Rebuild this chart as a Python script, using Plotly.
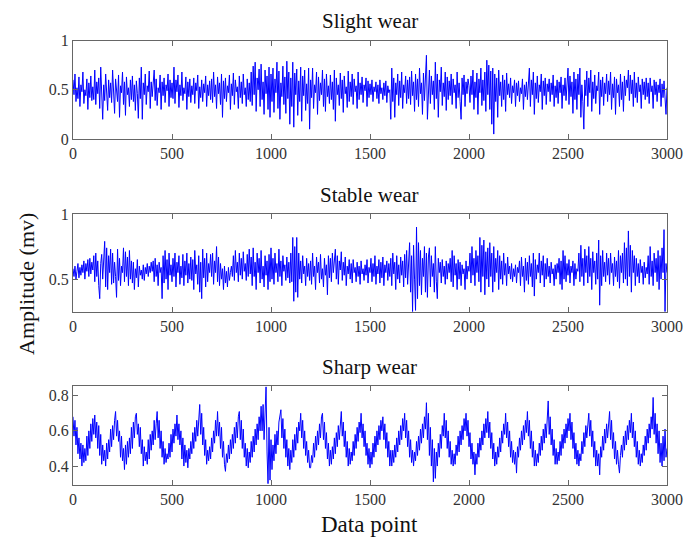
import plotly.graph_objects as go

# Amplitude values in hundredths of mV, one reading every 5 data points (0..3000)
slight = [
    60, 45, 66, 38, 52, 41, 63, 33, 55, 48, 68, 36, 50, 44, 61, 30, 57, 42, 64, 39,
    53, 40, 70, 35, 58, 46, 62, 31, 73, 44, 20, 55, 39, 66, 48, 29, 60, 42, 57, 37,
    70, 43, 26, 61, 50, 38, 65, 22, 54, 47, 68, 35, 58, 24, 63, 45, 52, 33, 60, 40,
    64, 38, 55, 29, 59, 46, 21, 62, 41, 73, 20, 57, 45, 66, 35, 54, 48, 69, 31, 58,
    43, 56, 70, 39, 61, 34, 52, 47, 65, 30, 58, 44, 62, 37, 55, 49, 66, 33, 60, 42,
    57, 41, 73, 36, 60, 48, 65, 32, 55, 44, 68, 39, 52, 46, 63, 30, 58, 43, 61, 37,
    54, 45, 62, 36, 57, 49, 65, 31, 53, 42, 60, 38, 56, 47, 64, 33, 55, 44, 59, 40,
    61, 37, 68, 43, 55, 31, 63, 46, 57, 35, 66, 22, 59, 41, 62, 38, 54, 47, 65, 30,
    56, 44, 67, 35, 60, 48, 53, 31, 64, 42, 58, 36, 66, 45, 52, 33, 61, 40, 57, 38,
    68, 34, 74, 45, 78, 28, 62, 50, 71, 33, 76, 40, 58, 25, 70, 46, 64, 30, 73, 22,
    66, 38, 72, 27, 61, 47, 78, 31, 69, 20, 57, 43, 74, 35, 63, 26, 79, 41, 68, 15,
    62, 33, 78, 12, 67, 45, 71, 24, 59, 38, 73, 18, 64, 44, 70, 29, 56, 36, 72, 10,
    60, 42, 72, 31, 55, 47, 68, 25, 63, 39, 57, 45, 70, 33, 61, 28, 66, 43, 54, 36,
    65, 40, 58, 30, 70, 18, 62, 45, 55, 34, 67, 41, 60, 27, 64, 46, 53, 32, 69, 38,
    58, 43, 66, 35, 61, 48, 54, 31, 68, 40, 57, 45, 63, 37, 55, 49, 62, 33, 59, 42,
    56, 45, 60, 38, 53, 48, 58, 41, 55, 36, 60, 46, 52, 40, 57, 44, 59, 37, 54, 47,
    50, 20, 72, 38, 62, 22, 57, 45, 66, 34, 59, 42, 68, 31, 55, 47, 64, 36, 60, 41,
    63, 35, 69, 44, 58, 28, 66, 40, 61, 33, 72, 46, 57, 25, 67, 39, 62, 85, 20, 58,
    70, 36, 64, 45, 59, 30, 78, 41, 66, 22, 60, 48, 73, 34, 57, 43, 68, 29, 63, 40,
    59, 44, 66, 35, 61, 47, 55, 31, 68, 42, 57, 38, 20, 62, 45, 65, 33, 58, 46, 61,
    54, 37, 64, 45, 70, 30, 58, 42, 67, 25, 61, 47, 72, 34, 60, 39, 68, 28, 80, 45,
    75, 30, 69, 15, 72, 5, 66, 38, 62, 22, 70, 44, 58, 33, 65, 40, 60, 28, 67, 45,
    56, 42, 62, 36, 54, 47, 60, 33, 57, 44, 59, 38, 52, 46, 61, 30, 55, 43, 58, 40,
    65, 72, 33, 60, 45, 68, 25, 57, 41, 64, 37, 55, 48, 66, 30, 59, 44, 62, 35, 56,
    48, 61, 38, 57, 45, 65, 33, 54, 42, 60, 36, 58, 47, 63, 31, 55, 44, 62, 39, 53,
    72, 35, 64, 43, 58, 26, 68, 40, 61, 30, 66, 45, 72, 22, 55, 38, 10, 60, 44, 69,
    33, 62, 47, 70, 28, 58, 41, 65, 36, 54, 49, 68, 25, 60, 43, 63, 34, 57, 46, 66,
    38, 59, 45, 68, 30, 56, 42, 63, 25, 61, 47, 55, 33, 66, 40, 58, 28, 64, 44, 60,
    52, 70, 39, 65, 46, 60, 33, 68, 42, 57, 37, 63, 48, 55, 31, 61, 45, 58, 40, 62,
    43, 57, 36, 62, 48, 54, 31, 60, 45, 58, 38, 55, 47, 61, 33, 56, 42, 59, 35, 25,
    52,
]

stable = [
    58, 52, 60, 50, 56, 62, 51, 59, 53, 61, 55, 64, 50, 62, 56, 65, 52, 66, 54, 63,
    57, 68, 48, 70, 52, 64, 45, 35, 62, 69, 50, 72, 79, 44, 74, 42, 68, 55, 73, 46,
    70, 47, 63, 52, 36, 73, 49, 66, 45, 60, 55, 74, 48, 71, 52, 67, 45, 72, 50, 64,
    47, 63, 42, 58, 51, 65, 44, 60, 53, 57, 50, 61, 49, 59, 54, 62, 52, 60, 55, 63,
    56, 64, 48, 66, 52, 61, 45, 63, 55, 59, 35, 68, 47, 72, 50, 65, 42, 70, 53, 61,
    48, 66, 52, 70, 44, 63, 55, 68, 46, 60, 51, 69, 45, 64, 53, 70, 47, 62, 50, 67,
    49, 65, 42, 72, 54, 61, 46, 68, 40, 63, 35, 73, 51, 66, 44, 70, 48, 62, 55, 69,
    52, 70, 46, 64, 55, 75, 48, 67, 45, 62, 50, 58, 42, 60, 47, 56, 44, 59, 49, 55,
    60, 52, 68, 49, 72, 55, 63, 48, 70, 53, 66, 50, 71, 56, 62, 49, 69, 52, 73, 54,
    67, 45, 74, 52, 63, 42, 70, 55, 66, 47, 72, 50, 60, 44, 68, 53, 64, 42, 69, 48,
    74, 50, 66, 46, 70, 55, 62, 48, 73, 52, 64, 45, 68, 56, 61, 49, 67, 51, 63, 47,
    70, 48, 82, 33, 75, 40, 82, 36, 70, 50, 64, 47, 68, 54, 60, 45, 66, 52, 62, 49,
    64, 46, 70, 52, 60, 42, 67, 55, 63, 47, 69, 50, 58, 44, 66, 53, 61, 38, 68, 51,
    66, 48, 70, 55, 62, 73, 50, 68, 46, 64, 57, 71, 49, 63, 53, 67, 45, 60, 54, 65,
    50, 62, 47, 65, 55, 59, 48, 63, 52, 60, 46, 64, 54, 58, 49, 61, 53, 65, 47, 59,
    55, 66, 48, 62, 52, 68, 46, 60, 54, 65, 47, 63, 51, 67, 45, 61, 55, 64, 49, 62,
    52, 66, 45, 70, 54, 63, 42, 68, 50, 61, 47, 67, 53, 64, 44, 69, 51, 72, 46, 65,
    78, 40, 68, 25, 76, 50, 26, 90, 35, 78, 45, 72, 38, 66, 52, 75, 40, 70, 36, 67,
    74, 44, 68, 52, 62, 40, 75, 48, 35, 66, 55, 63, 47, 65, 52, 60, 46, 64, 50, 62,
    55, 66, 48, 72, 44, 68, 53, 62, 42, 65, 50, 63, 45, 61, 54, 58, 42, 64, 50, 60,
    56, 70, 47, 75, 53, 66, 45, 72, 55, 68, 48, 82, 40, 76, 52, 80, 38, 71, 50, 74,
    44, 78, 52, 70, 40, 75, 48, 66, 55, 72, 42, 68, 50, 64, 46, 70, 53, 62, 45, 67,
    54, 60, 50, 62, 48, 58, 52, 61, 47, 59, 55, 64, 45, 67, 52, 60, 40, 66, 49, 63,
    46, 68, 52, 62, 44, 70, 37, 65, 50, 61, 55, 70, 47, 64, 53, 68, 44, 62, 50, 66,
    52, 60, 47, 63, 54, 58, 45, 61, 50, 62, 55, 66, 46, 64, 42, 72, 50, 68, 48, 62,
    53, 65, 47, 60, 55, 64, 45, 62, 50, 58, 56, 70, 48, 76, 52, 66, 45, 73, 55, 68,
    47, 75, 52, 66, 42, 71, 55, 64, 46, 70, 50, 80, 30, 68, 45, 72, 52, 63, 48, 70,
    53, 66, 46, 70, 55, 62, 45, 67, 52, 64, 48, 72, 43, 68, 55, 70, 47, 78, 50, 74,
    45, 87, 52, 76, 40, 72, 55, 68, 45, 66, 52, 62, 47, 65, 55, 60, 46, 63, 51, 59,
    54, 68, 46, 75, 52, 64, 45, 70, 55, 66, 48, 72, 42, 68, 50, 74, 55, 88, 25, 62,
    55,
]

sharp = [
    68, 57, 66, 52, 62, 47, 56, 44, 53, 40, 52, 42, 50, 43, 57, 46, 60, 50, 64, 54, 67, 58,
    69, 56, 65, 50, 63, 46, 58, 41, 52, 43, 49, 40, 53, 44, 55, 48, 61, 51, 63, 55, 66,
    71, 57, 66, 54, 60, 45, 57, 43, 50, 38, 52, 41, 54, 45, 56, 47, 62, 50, 65, 56, 68,
    70, 58, 64, 51, 62, 47, 55, 40, 51, 43, 48, 41, 55, 44, 58, 49, 60, 52, 66, 55, 64,
    71, 56, 66, 50, 60, 45, 54, 41, 50, 42, 47, 44, 53, 45, 58, 48, 61, 53, 64, 57,
    69, 55, 64, 52, 60, 44, 56, 40, 52, 42, 49, 39, 50, 44, 54, 47, 59, 50, 62, 54, 66, 57, 70,
    75, 58, 70, 52, 62, 46, 55, 41, 49, 43, 51, 44, 56, 48, 60, 53, 66, 57,
    71, 57, 65, 50, 62, 45, 54, 41, 37, 47, 42, 52, 44, 55, 47, 58, 50, 62, 53, 65, 56, 68,
    71, 55, 66, 50, 61, 45, 53, 40, 50, 39, 48, 42, 54, 45, 57, 48, 61, 52, 64, 55, 68, 60,
    74, 60, 75, 55, 68, 85, 48, 30, 62, 32, 55, 38, 52, 43, 58, 47, 60, 52, 65, 68,
    72, 56, 67, 50, 61, 45, 55, 40, 50, 38, 49, 42, 55, 45, 58, 49, 62, 53, 65, 60,
    70, 56, 66, 50, 60, 46, 54, 42, 49, 39, 39, 46, 42, 53, 45, 57, 49, 60, 52, 64, 56, 68,
    70, 55, 65, 50, 59, 44, 53, 40, 49, 41, 51, 44, 56, 47, 59, 51, 63, 55, 66,
    71, 57, 65, 51, 60, 45, 54, 40, 50, 41, 48, 43, 54, 46, 58, 50, 62, 54, 65, 59,
    70, 56, 64, 51, 60, 46, 53, 41, 50, 39, 48, 41, 53, 45, 57, 48, 60, 52, 63, 55, 66, 60,
    68, 55, 64, 50, 59, 45, 54, 40, 49, 40, 49, 42, 52, 45, 56, 48, 60, 52, 63, 55, 67, 60,
    70, 56, 66, 51, 60, 45, 55, 42, 49, 40, 48, 43, 54, 46, 57, 49, 61, 53, 64, 56, 68, 61,
    76, 55, 70, 46, 62, 40, 55, 31, 50, 33, 48, 40, 53, 45, 58, 50, 63, 57,
    70, 56, 66, 50, 60, 45, 54, 41, 49, 40, 47, 41, 52, 46, 57, 48, 60, 52, 63, 55, 67, 60,
    70, 57, 66, 51, 59, 44, 53, 41, 48, 35, 47, 41, 53, 45, 56, 49, 60, 52, 64, 56, 67, 59,
    71, 56, 65, 50, 59, 44, 53, 40, 48, 41, 51, 45, 56, 48, 60, 53, 64, 58,
    70, 56, 65, 51, 60, 45, 54, 42, 49, 41, 48, 36, 51, 45, 56, 49, 60, 52, 63, 55, 66, 59,
    71, 57, 66, 50, 60, 45, 54, 40, 49, 40, 47, 42, 53, 46, 57, 49, 61, 53, 64, 56, 68,
    77, 58, 68, 52, 61, 46, 55, 41, 50, 41, 48, 43, 54, 46, 58, 50, 61, 53, 64, 56, 67, 60,
    70, 55, 65, 50, 59, 44, 53, 41, 49, 40, 47, 43, 54, 47, 59, 51, 63, 56, 66,
    70, 57, 66, 51, 60, 45, 54, 40, 49, 40, 47, 35, 51, 45, 57, 49, 61, 53, 64, 56, 67,
    71, 55, 66, 50, 59, 44, 54, 41, 49, 41, 36, 46, 52, 45, 57, 49, 60, 52, 63, 55, 66, 59,
    70, 56, 65, 51, 60, 45, 54, 41, 49, 40, 47, 42, 52, 46, 57, 49, 61, 53, 64, 56, 68, 61,
    79, 58, 70, 53, 64, 47, 60, 42, 53, 40, 57, 43, 61, 45, 50,
]

titles = ["Slight wear", "Stable wear", "Sharp wear"]
x_ticks = [0, 500, 1000, 1500, 2000, 2500, 3000]
y_ticks = [[0, 0.5, 1], [0.5, 1], [0.4, 0.6, 0.8]]
y_ticklabels = [["0", "0.5", "1"], ["0.5", "1"], ["0.4", "0.6", "0.8"]]
y_ranges = [[0, 1], [0.25, 1], [0.294, 0.855]]
N_POINTS = 3000

W, H = 684, 543
FONT = "Liberation Serif"
x_dom = [73 / W, 667 / W]
y_px = [(40.5, 139), (214, 311.7), (386, 484.7)]

fig = go.Figure()
layout = dict(
    width=W, height=H,
    margin=dict(l=0, r=0, t=0, b=0, autoexpand=False),
    paper_bgcolor="white", plot_bgcolor="white",
    showlegend=False,
    font=dict(family=FONT, color="#222", size=16),
)

series = [slight, stable, sharp]
annotations = []
for k, vals in enumerate(series):
    n = "" if k == 0 else str(k + 1)
    step = N_POINTS / (len(vals) - 1)
    xs = [i * step for i in range(len(vals))]
    ys = [v / 100 for v in vals]
    fig.add_trace(go.Scatter(x=xs, y=ys, mode="lines",
                             line=dict(color="#0000ff", width=1),
                             xaxis="x" + n, yaxis="y" + n))
    top, bot = y_px[k]
    dom = [1 - bot / H, 1 - top / H]
    axis_common = dict(showline=True, linecolor="#666", linewidth=1, mirror="ticks",
                       ticks="inside", ticklen=5, tickcolor="#666", showgrid=False,
                       zeroline=False, automargin=False,
                       tickfont=dict(family=FONT, size=16, color="#333"))
    layout["xaxis" + n] = dict(domain=x_dom, range=[0, 3000], tickvals=x_ticks,
                               anchor="y" + n, **axis_common)
    layout["yaxis" + n] = dict(domain=dom, range=y_ranges[k], tickvals=y_ticks[k],
                               ticktext=y_ticklabels[k], anchor="x" + n, **axis_common)
    annotations.append(dict(text=titles[k], x=(x_dom[0] + x_dom[1]) / 2, y=1 - (top - 19.5) / H,
                            xref="paper", yref="paper", showarrow=False,
                            xanchor="center", yanchor="middle",
                            font=dict(family=FONT, size=21, color="#111")))

annotations.append(dict(text="Amplitude (mv)", x=26 / W, y=1 - 284 / H, xref="paper", yref="paper",
                        showarrow=False, textangle=-90, xanchor="center", yanchor="middle",
                        font=dict(family=FONT, size=22, color="#111")))
annotations.append(dict(text="Data point", x=(x_dom[0] + x_dom[1]) / 2, y=1 - 524 / H,
                        xref="paper", yref="paper", showarrow=False,
                        xanchor="center", yanchor="middle",
                        font=dict(family=FONT, size=23, color="#111")))
layout["annotations"] = annotations
fig.update_layout(**layout)
fig.write_html("out.html")
